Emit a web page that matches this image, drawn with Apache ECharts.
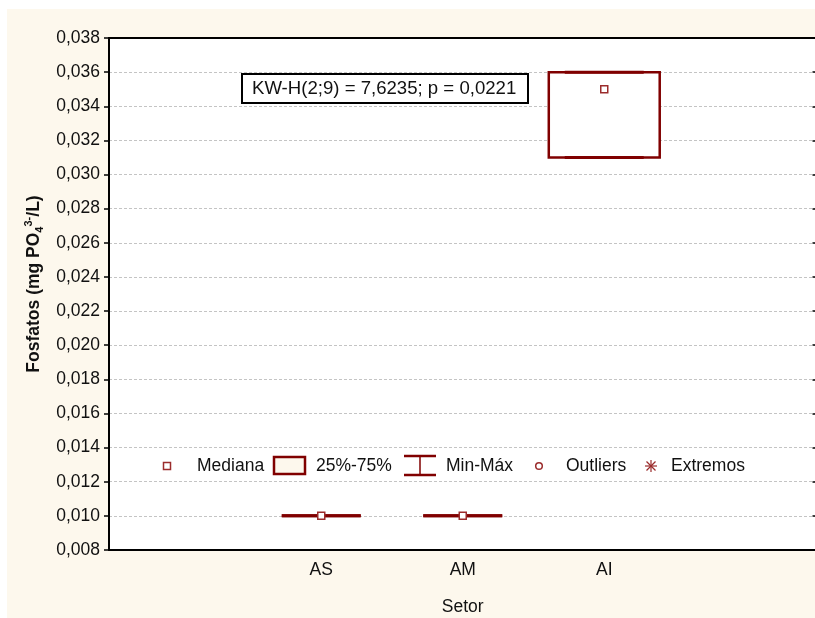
<!DOCTYPE html>
<html>
<head>
<meta charset="utf-8">
<script src="https://cdn.jsdelivr.net/npm/echarts@6/dist/echarts.min.js"></script>
<style>
html,body{margin:0;padding:0;background:#ffffff;}
#chart{width:815px;height:618px;}
</style>
</head>
<body>
<div id="chart"></div>
<script>
// ---- data ----
const axisCategories = ['', 'AS', 'AM', 'AI', ''];
const groups = ['AS', 'AM', 'AI'];
const minVals = [0.010, 0.010, 0.031];
const q1Vals = [0.010, 0.010, 0.031];
const medianVals = [0.010, 0.010, 0.035];
const q3Vals = [0.010, 0.010, 0.036];
const maxVals = [0.010, 0.010, 0.036];
const yMin = 0.008;
const yMax = 0.038;
const yStep = 0.002;
const statText = 'KW-H(2;9) = 7,6235; p = 0,0221';
const legendLabels = ['Mediana', '25%-75%', 'Min-Máx', 'Outliers', 'Extremos'];

const FONT = "'Liberation Sans', Arial, sans-serif";
const RED = '#800000';
const MARK = '#9b2c2c';

const boxData = groups.map((g, i) => [axisCategories.indexOf(g), minVals[i], q1Vals[i], medianVals[i], q3Vals[i], maxVals[i]]);

function renderBox(params, api) {
  const x = api.value(0);
  const band = api.size([1, 0])[0];
  const boxHalf = band * 0.392;
  const capHalf = band * 0.279;
  const pMin = api.coord([x, api.value(1)]);
  const pQ1 = api.coord([x, api.value(2)]);
  const pMed = api.coord([x, api.value(3)]);
  const pQ3 = api.coord([x, api.value(4)]);
  const pMax = api.coord([x, api.value(5)]);
  const cx = pMed[0];
  const children = [];
  if (Math.abs(pQ1[1] - pQ3[1]) > 0.5) {
    children.push({
      type: 'rect',
      shape: { x: cx - boxHalf, y: pQ3[1], width: boxHalf * 2, height: pQ1[1] - pQ3[1] },
      style: { fill: '#ffffff', stroke: RED, lineWidth: 2.5 }
    });
  }
  children.push({ type: 'line', shape: { x1: cx, y1: pQ3[1], x2: cx, y2: pMax[1] }, style: { stroke: RED, lineWidth: 2.5 } });
  children.push({ type: 'line', shape: { x1: cx, y1: pQ1[1], x2: cx, y2: pMin[1] }, style: { stroke: RED, lineWidth: 2.5 } });
  children.push({ type: 'line', shape: { x1: cx - capHalf, y1: pMax[1], x2: cx + capHalf, y2: pMax[1] }, style: { stroke: RED, lineWidth: 3 } });
  children.push({ type: 'line', shape: { x1: cx - capHalf, y1: pMin[1], x2: cx + capHalf, y2: pMin[1] }, style: { stroke: RED, lineWidth: 3 } });
  children.push({
    type: 'rect',
    shape: { x: cx - 3.5, y: pMed[1] - 3.5, width: 7, height: 7 },
    style: { fill: '#ffffff', stroke: MARK, lineWidth: 1.5 }
  });
  return { type: 'group', children: children };
}

const legendY = 466;
const textStyle = { fontFamily: FONT, fontSize: 17.5, fill: '#111111' };
function legendText(x, str) {
  return { type: 'text', x: x, y: legendY, style: Object.assign({}, textStyle, { text: str, verticalAlign: 'middle' }), z: 100 };
}

const chart = echarts.init(document.getElementById('chart'), null, { renderer: 'canvas' });
chart.setOption({
  backgroundColor: '#fdf8ed',
  animation: false,
  grid: {
    left: 109, top: 38, width: 707.5, bottom: 68,
    outerBoundsMode: 'none',
    containLabel: false,
    show: true, backgroundColor: '#ffffff', borderWidth: 0
  },
  xAxis: [{
    type: 'category',
    data: axisCategories,
    boundaryGap: true,
    position: 'bottom',
    axisLine: { lineStyle: { color: '#000000', width: 2 } },
    axisTick: { alignWithLabel: true, inside: true, length: 5, interval: 0, lineStyle: { color: '#000', width: 1.5 } },
    axisLabel: { interval: 0, margin: 11, fontFamily: FONT, fontSize: 17.5, color: '#111111' },
    splitLine: { show: false },
    name: 'Setor',
    nameLocation: 'middle',
    nameGap: 48,
    nameTextStyle: { fontFamily: FONT, fontSize: 17.5, color: '#111111' }
  }, {
    type: 'category',
    data: axisCategories,
    boundaryGap: true,
    position: 'top',
    axisLine: { lineStyle: { color: '#000000', width: 2 } },
    axisTick: { alignWithLabel: true, inside: true, length: 4, interval: 0, lineStyle: { color: '#000', width: 1.5 } },
    axisLabel: { show: false },
    splitLine: { show: false }
  }],
  yAxis: [{
    type: 'value',
    min: yMin, max: yMax, interval: yStep,
    position: 'left',
    axisLine: { show: true, lineStyle: { color: '#000000', width: 2 } },
    axisTick: { show: true, length: 5, lineStyle: { color: '#000', width: 1.5 } },
    axisLabel: {
      margin: 9, fontFamily: FONT, fontSize: 17.5, color: '#111111',
      formatter: v => v.toFixed(3).replace('.', ',')
    },
    splitLine: { show: true, lineStyle: { color: '#c4c4c4', width: 1, type: [3, 2] } },
    name: '{b|Fosfatos (mg PO}{sub|4}{sup|3-}{b|/L)}',
    nameLocation: 'middle',
    nameGap: 64,
    nameRotate: 90,
    nameTextStyle: {
      padding: [0, 0, 0, 20],
      rich: {
        b: { fontFamily: FONT, fontSize: 17.5, fontWeight: 'bold', color: '#111111', lineHeight: 22 },
        sub: { fontFamily: FONT, fontSize: 11, fontWeight: 'bold', color: '#111111', verticalAlign: 'bottom', lineHeight: 12 },
        sup: { fontFamily: FONT, fontSize: 11, fontWeight: 'bold', color: '#111111', verticalAlign: 'top', lineHeight: 12 }
      }
    }
  }, {
    type: 'value',
    min: yMin, max: yMax, interval: yStep,
    position: 'right',
    axisLine: { show: false },
    axisTick: { show: true, inside: true, length: 4, lineStyle: { color: '#000', width: 1.5 } },
    axisLabel: { show: false },
    splitLine: { show: false }
  }],
  graphic: [
    { type: 'rect', shape: { x: 0, y: 0, width: 815, height: 9 }, style: { fill: '#ffffff' }, z: -10, silent: true },
    { type: 'rect', shape: { x: 0, y: 0, width: 7, height: 618 }, style: { fill: '#ffffff' }, z: -10, silent: true },
    // annotation
    { type: 'rect', shape: { x: 242, y: 74, width: 286, height: 29 }, style: { fill: '#ffffff', stroke: '#000000', lineWidth: 2 }, z: 100 },
    { type: 'text', x: 252, y: 89, style: Object.assign({}, textStyle, { text: statText, fontSize: 18.6, verticalAlign: 'middle' }), z: 101 },
    // legend
    { type: 'rect', shape: { x: 163.5, y: legendY - 3.5, width: 7, height: 7 }, style: { fill: '#ffffff', stroke: MARK, lineWidth: 1.5 }, z: 100 },
    legendText(197, legendLabels[0]),
    { type: 'rect', shape: { x: 274, y: 457, width: 31, height: 17 }, style: { fill: '#fdf8ed', stroke: RED, lineWidth: 2.5 }, z: 100 },
    legendText(316, legendLabels[1]),
    { type: 'line', shape: { x1: 404, y1: 456, x2: 436, y2: 456 }, style: { stroke: RED, lineWidth: 2.5 }, z: 100 },
    { type: 'line', shape: { x1: 404, y1: 475, x2: 436, y2: 475 }, style: { stroke: RED, lineWidth: 2.5 }, z: 100 },
    { type: 'line', shape: { x1: 420, y1: 456, x2: 420, y2: 475 }, style: { stroke: RED, lineWidth: 1.5 }, z: 100 },
    legendText(446, legendLabels[2]),
    { type: 'circle', shape: { cx: 539, cy: legendY, r: 3.3 }, style: { fill: '#ffffff', stroke: MARK, lineWidth: 1.5 }, z: 100 },
    legendText(566, legendLabels[3]),
    { type: 'group', x: 651, y: legendY, z: 100, children: [
      { type: 'line', shape: { x1: 0, y1: -6, x2: 0, y2: 6 }, style: { stroke: MARK, lineWidth: 1.2 } },
      { type: 'line', shape: { x1: -6, y1: 0, x2: 6, y2: 0 }, style: { stroke: MARK, lineWidth: 1.2 } },
      { type: 'line', shape: { x1: -4.5, y1: -4.5, x2: 4.5, y2: 4.5 }, style: { stroke: MARK, lineWidth: 1.2 } },
      { type: 'line', shape: { x1: -4.5, y1: 4.5, x2: 4.5, y2: -4.5 }, style: { stroke: MARK, lineWidth: 1.2 } }
    ] },
    legendText(671, legendLabels[4])
  ],
  series: [{
    type: 'custom',
    xAxisIndex: 0,
    yAxisIndex: 0,
    renderItem: renderBox,
    data: boxData,
    encode: { x: 0, y: [1, 2, 3, 4, 5] },
    z: 10
  }]
});
</script>
</body>
</html>
